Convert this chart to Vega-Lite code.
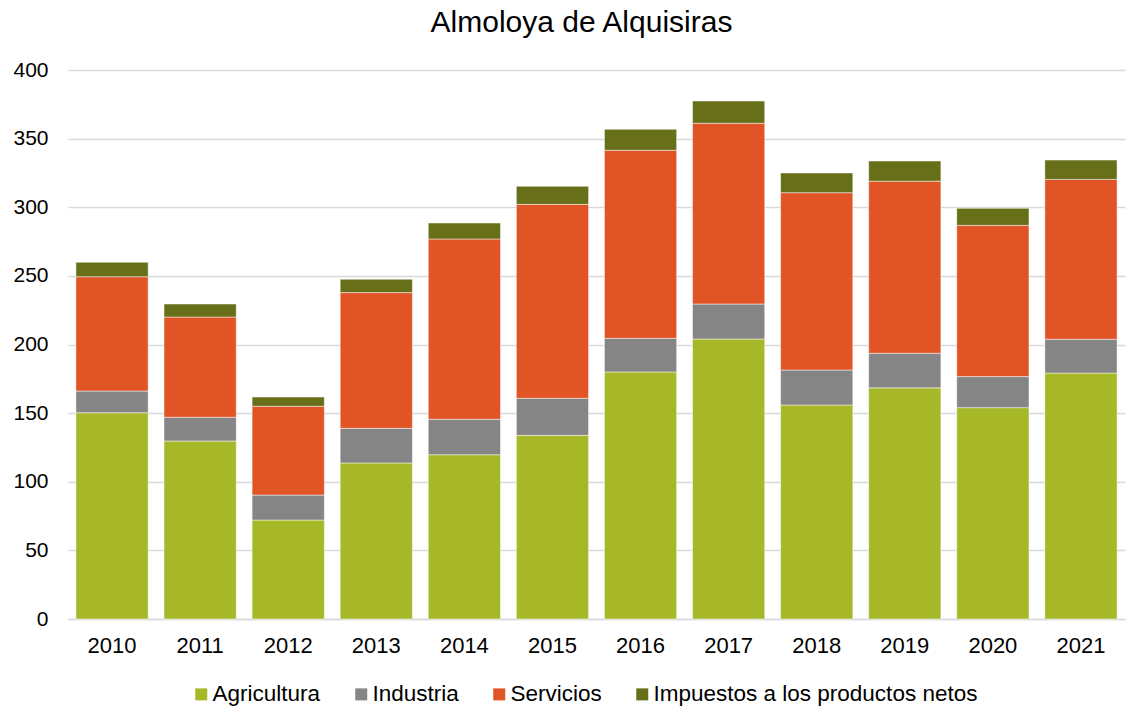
{
  "$schema": "https://vega.github.io/schema/vega-lite/v6.json",
  "width": 1057,
  "height": 549,
  "autosize": {"type": "none"},
  "padding": {"left": 68, "top": 70, "right": 10, "bottom": 87},
  "background": "white",
  "title": {"text": "Almoloya de Alquisiras", "font": "Liberation Sans", "fontSize": 30, "fontWeight": "normal", "color": "#000000", "anchor": "middle", "dx": -15, "offset": 21},
  "config": {"view": {"stroke": null}, "font": "Liberation Sans"},
  "data": {"values": [
    {"anio": "2010", "sector": "Agricultura", "i": 1, "valor": 150.3},
    {"anio": "2010", "sector": "Industria", "i": 2, "valor": 15.8},
    {"anio": "2010", "sector": "Servicios", "i": 3, "valor": 83.3},
    {"anio": "2010", "sector": "Impuestos a los productos netos", "i": 4, "valor": 10.5},
    {"anio": "2011", "sector": "Agricultura", "i": 1, "valor": 129.7},
    {"anio": "2011", "sector": "Industria", "i": 2, "valor": 17.3},
    {"anio": "2011", "sector": "Servicios", "i": 3, "valor": 73.0},
    {"anio": "2011", "sector": "Impuestos a los productos netos", "i": 4, "valor": 9.5},
    {"anio": "2012", "sector": "Agricultura", "i": 1, "valor": 72.1},
    {"anio": "2012", "sector": "Industria", "i": 2, "valor": 18.2},
    {"anio": "2012", "sector": "Servicios", "i": 3, "valor": 64.7},
    {"anio": "2012", "sector": "Impuestos a los productos netos", "i": 4, "valor": 6.7},
    {"anio": "2013", "sector": "Agricultura", "i": 1, "valor": 113.7},
    {"anio": "2013", "sector": "Industria", "i": 2, "valor": 25.2},
    {"anio": "2013", "sector": "Servicios", "i": 3, "valor": 98.9},
    {"anio": "2013", "sector": "Impuestos a los productos netos", "i": 4, "valor": 9.7},
    {"anio": "2014", "sector": "Agricultura", "i": 1, "valor": 119.7},
    {"anio": "2014", "sector": "Industria", "i": 2, "valor": 25.8},
    {"anio": "2014", "sector": "Servicios", "i": 3, "valor": 131.4},
    {"anio": "2014", "sector": "Impuestos a los productos netos", "i": 4, "valor": 11.6},
    {"anio": "2015", "sector": "Agricultura", "i": 1, "valor": 133.8},
    {"anio": "2015", "sector": "Industria", "i": 2, "valor": 27.0},
    {"anio": "2015", "sector": "Servicios", "i": 3, "valor": 141.3},
    {"anio": "2015", "sector": "Impuestos a los productos netos", "i": 4, "valor": 13.2},
    {"anio": "2016", "sector": "Agricultura", "i": 1, "valor": 180.0},
    {"anio": "2016", "sector": "Industria", "i": 2, "valor": 24.5},
    {"anio": "2016", "sector": "Servicios", "i": 3, "valor": 137.0},
    {"anio": "2016", "sector": "Impuestos a los productos netos", "i": 4, "valor": 15.3},
    {"anio": "2017", "sector": "Agricultura", "i": 1, "valor": 204.0},
    {"anio": "2017", "sector": "Industria", "i": 2, "valor": 25.5},
    {"anio": "2017", "sector": "Servicios", "i": 3, "valor": 131.7},
    {"anio": "2017", "sector": "Impuestos a los productos netos", "i": 4, "valor": 16.2},
    {"anio": "2018", "sector": "Agricultura", "i": 1, "valor": 155.9},
    {"anio": "2018", "sector": "Industria", "i": 2, "valor": 25.5},
    {"anio": "2018", "sector": "Servicios", "i": 3, "valor": 129.2},
    {"anio": "2018", "sector": "Impuestos a los productos netos", "i": 4, "valor": 14.4},
    {"anio": "2019", "sector": "Agricultura", "i": 1, "valor": 168.4},
    {"anio": "2019", "sector": "Industria", "i": 2, "valor": 25.2},
    {"anio": "2019", "sector": "Servicios", "i": 3, "valor": 125.4},
    {"anio": "2019", "sector": "Impuestos a los productos netos", "i": 4, "valor": 14.7},
    {"anio": "2020", "sector": "Agricultura", "i": 1, "valor": 154.0},
    {"anio": "2020", "sector": "Industria", "i": 2, "valor": 22.6},
    {"anio": "2020", "sector": "Servicios", "i": 3, "valor": 110.2},
    {"anio": "2020", "sector": "Impuestos a los productos netos", "i": 4, "valor": 12.4},
    {"anio": "2021", "sector": "Agricultura", "i": 1, "valor": 179.2},
    {"anio": "2021", "sector": "Industria", "i": 2, "valor": 24.6},
    {"anio": "2021", "sector": "Servicios", "i": 3, "valor": 116.5},
    {"anio": "2021", "sector": "Impuestos a los productos netos", "i": 4, "valor": 14.1}
  ]},
  "mark": {"type": "bar", "stroke": "white", "strokeWidth": 0.8, "strokeOpacity": 0.6},
  "encoding": {
    "x": {
      "field": "anio", "type": "nominal", "title": null,
      "scale": {"paddingInner": 0.18, "paddingOuter": 0.09},
      "axis": {"labelAngle": 0, "labelFont": "Liberation Sans", "labelFontSize": 22, "labelColor": "#000000", "ticks": false, "domainColor": "#D9D9D9", "domainWidth": 1.5, "labelPadding": 16}
    },
    "y": {
      "field": "valor", "type": "quantitative", "aggregate": "sum", "title": null, "stack": "zero",
      "scale": {"domain": [0, 400], "nice": false},
      "axis": {"values": [0, 50, 100, 150, 200, 250, 300, 350, 400], "labelFont": "Liberation Sans", "labelFontSize": 21, "labelColor": "#000000", "ticks": false, "domain": false, "gridColor": "#D9D9D9", "gridWidth": 1.5, "labelPadding": 20}
    },
    "color": {
      "field": "sector", "type": "nominal",
      "scale": {"domain": ["Agricultura", "Industria", "Servicios", "Impuestos a los productos netos"], "range": ["#A6B727", "#858585", "#E05426", "#676F19"]},
      "legend": {"title": null, "orient": "none", "legendX": 122, "legendY": 613, "padding": 0, "direction": "horizontal", "symbolType": "square", "symbolSize": 144, "symbolStrokeWidth": 0, "labelFont": "Liberation Sans", "labelFontSize": 22.5, "labelColor": "#000000", "labelLimit": 0, "columnPadding": 29, "labelOffset": 0}
    },
    "order": {"field": "i", "type": "quantitative", "sort": "ascending"}
  }
}
